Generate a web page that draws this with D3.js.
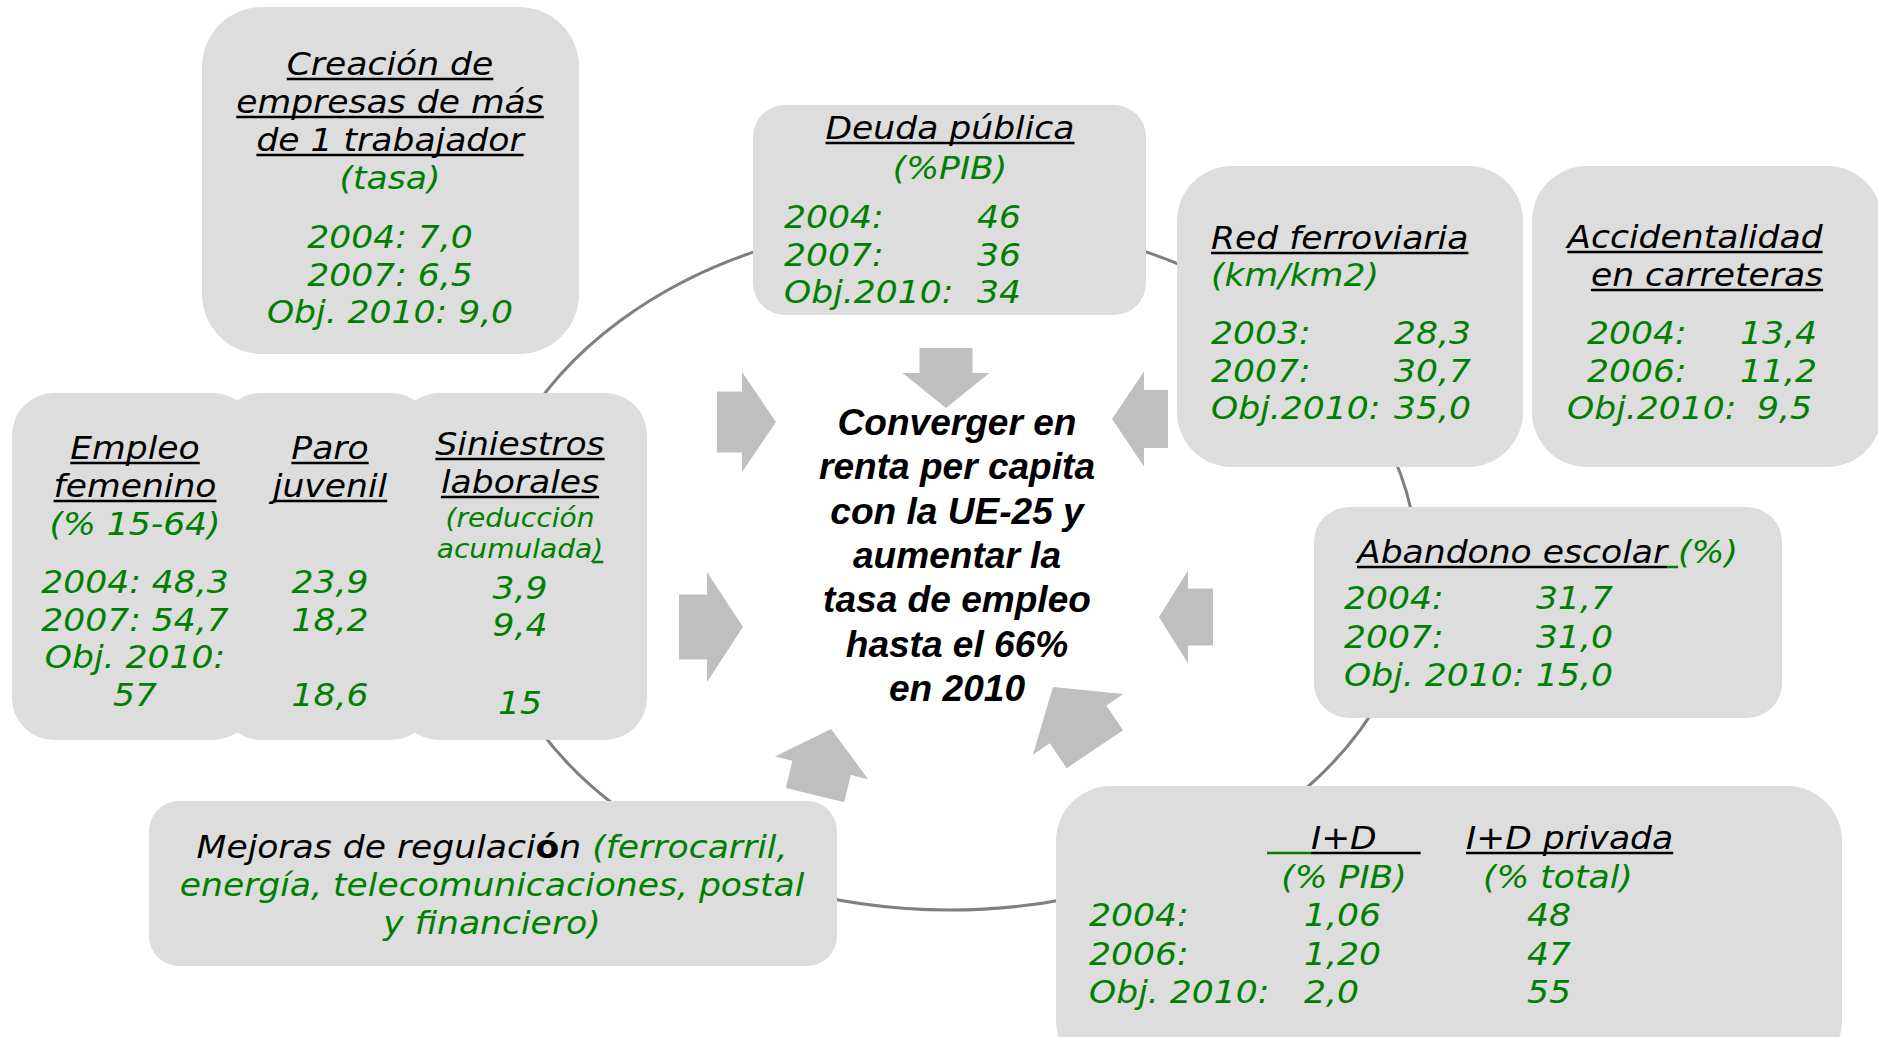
<!DOCTYPE html>
<html>
<head>
<meta charset="utf-8">
<script src="https://cdn.jsdelivr.net/npm/d3@7"></script>
<style>
  html, body { margin: 0; padding: 0; background: #fff; }
  svg text { white-space: pre; }
</style>
</head>
<body>
<svg id="chart" width="1878" height="1037"></svg>
<script>
// --- indicator data ---
const creacionHead = ["Creación de", "empresas de más", "de 1 trabajador"];
const creacionUnit = "(tasa)";
const creacionYears = ["2004", "2007", "Obj. 2010"];
const creacionValues = ["7,0", "6,5", "9,0"];

const deudaHead = "Deuda pública";
const deudaUnit = "(%PIB)";
const deudaYears = ["2004", "2007", "Obj.2010"];
const deudaValues = ["46", "36", "34"];

const redHead = "Red ferroviaria";
const redUnit = "(km/km2)";
const redYears = ["2003", "2007", "Obj.2010"];
const redValues = ["28,3", "30,7", "35,0"];

const accHead = ["Accidentalidad", "en carreteras"];
const accYears = ["2004", "2006", "Obj.2010"];
const accValues = ["13,4", "11,2", "9,5"];

const empleoHead = ["Empleo", "femenino"];
const empleoUnit = "(% 15-64)";
const empleoYears = ["2004", "2007"];
const empleoValues = ["48,3", "54,7"];
const empleoGoal = ["Obj. 2010:", "57"];

const paroHead = ["Paro", "juvenil"];
const paroValues = ["23,9", "18,2", "18,6"];

const siniHead = ["Siniestros", "laborales"];
const siniUnit = ["(reducción", "acumulada"];
const siniValues = ["3,9", "9,4", "15"];

const abandonoHead = "Abandono escolar";
const abandonoUnit = "(%)";
const abandonoYears = ["2004", "2007", "Obj. 2010"];
const abandonoValues = ["31,7", "31,0", "15,0"];

const idHeads = ["I+D", "I+D privada"];
const idUnits = ["(% PIB)", "(% total)"];
const idYears = ["2004", "2006", "Obj. 2010"];
const idValues = ["1,06", "1,20", "2,0"];
const idPrivValues = ["48", "47", "55"];

const regulacionLines = ["energía, telecomunicaciones, postal", "y financiero)"];
const goalLines = ["Converger en", "renta per capita", "con la UE-25 y", "aumentar la",
                   "tasa de empleo", "hasta el 66%", "en 2010"];

// --- layout ---
const green = "#008000";
const boxFill = "#dddddd";
const arrowFill = "#bfbfbf";

const boxes = [
  { x: 202,  y: 7,   w: 377, h: 347, r: 60 },   // creación
  { x: 753,  y: 105, w: 393, h: 210, r: 32 },   // deuda
  { x: 1177, y: 166, w: 346, h: 301, r: 55 },   // red ferroviaria
  { x: 1532, y: 166, w: 350, h: 301, r: 55 },   // accidentalidad
  { x: 1314, y: 507, w: 468, h: 211, r: 35 },   // abandono
  { x: 12,   y: 393, w: 243, h: 347, r: 42 },   // empleo
  { x: 219,  y: 393, w: 214, h: 347, r: 42 },   // paro
  { x: 397,  y: 393, w: 250, h: 347, r: 42 },   // siniestros
  { x: 149,  y: 801, w: 688, h: 165, r: 30 },   // regulación
  { x: 1056, y: 786, w: 786, h: 290, r: 55 }    // I+D
];

// arrows pointing at the goal: tip position, heading (deg), sizes
const arrows = [
  { tip: [946, 408],  angle: 90,     len: 60, head: 35, shaft: 53, headW: 87 },
  { tip: [776, 422],  angle: 0,      len: 59, head: 34, shaft: 61, headW: 100 },
  { tip: [1112, 419], angle: 180,    len: 56, head: 32, shaft: 58, headW: 95 },
  { tip: [743, 627],  angle: 0,      len: 64, head: 36, shaft: 65, headW: 110 },
  { tip: [1159, 617], angle: 180,    len: 54, head: 29, shaft: 57, headW: 93 },
  { tip: [831, 729],  angle: -76.4,  len: 68, head: 40, shaft: 60, headW: 96 },
  { tip: [1053, 687], angle: -123.9, len: 75, head: 45, shaft: 68, headW: 109 }
];

const svg = d3.select("#chart");

// ring behind everything
svg.append("ellipse")
  .attr("cx", 950).attr("cy", 565)
  .attr("rx", 467).attr("ry", 345)
  .attr("fill", "none")
  .attr("stroke", "#7f7f7f")
  .attr("stroke-width", 3);

svg.selectAll("rect.box")
  .data(boxes)
  .join("rect")
  .attr("class", "box")
  .attr("x", d => d.x).attr("y", d => d.y)
  .attr("width", d => d.w).attr("height", d => d.h)
  .attr("rx", d => d.r).attr("ry", d => d.r)
  .attr("fill", boxFill);

function arrowPath(d) {
  const h = d.head, l = d.len, s = d.shaft / 2, w = d.headW / 2;
  return d3.line()([[0, 0], [-h, -w], [-h, -s], [-l, -s], [-l, s], [-h, s], [-h, w]]) + "Z";
}

svg.selectAll("path.arrow")
  .data(arrows)
  .join("path")
  .attr("class", "arrow")
  .attr("d", arrowPath)
  .attr("transform", d => `translate(${d.tip[0]},${d.tip[1]}) rotate(${d.angle})`)
  .attr("fill", arrowFill);

// text helper: parts = string or [{t, c, u, b}]
function txt(x, y, parts, o = {}) {
  const size = o.size || 32, sx = o.sx || 1.08;
  const g = svg.append("g").attr("transform", `translate(${x},${y}) scale(${sx},1)`);
  const t = g.append("text")
    .attr("text-anchor", o.anchor || "start")
    .attr("font-family", o.family || "'DejaVu Sans', Verdana, sans-serif")
    .attr("font-size", size)
    .attr("font-style", "italic")
    .attr("font-weight", o.weight || "normal");
  if (typeof parts === "string") parts = [{ t: parts }];
  const spans = [];
  let idx = 0;
  parts.forEach(p => {
    const col = p.c || o.color || "#000";
    const ts = t.append("tspan").text(p.t).attr("fill", col);
    if (p.b) ts.attr("font-weight", "bold").attr("font-style", "normal");
    spans.push({ node: ts.node(), start: idx, col, u: p.u !== undefined ? p.u : o.u });
    idx += p.t.length;
  });
  spans.filter(s => s.u).forEach(s => {
    const x0 = t.node().getStartPositionOfChar(s.start).x;
    const len = s.node.getComputedTextLength();
    g.append("line")
      .attr("x1", x0).attr("x2", x0 + len)
      .attr("y1", 4).attr("y2", 4)
      .attr("stroke", s.col).attr("stroke-width", 2.5);
  });
  return g;
}

// Creación de empresas
creacionHead.forEach((s, i) => txt(390, 75 + i * 38, s, { anchor: "middle", u: true }));
txt(390, 189, creacionUnit, { anchor: "middle", color: green });
creacionYears.forEach((s, i) =>
  txt(390, 248 + i * 37.5, `${s}: ${creacionValues[i]}`, { anchor: "middle", color: green }));

// Deuda pública
txt(950, 139, deudaHead, { anchor: "middle", u: true });
txt(950, 179, deudaUnit, { anchor: "middle", color: green });
deudaYears.forEach((s, i) => {
  txt(784, 228 + i * 37.5, s + ":", { color: green });
  txt(977, 228 + i * 37.5, deudaValues[i], { color: green });
});

// Red ferroviaria
txt(1211, 249, redHead, { u: true });
txt(1211, 286, redUnit, { color: green });
redYears.forEach((s, i) => {
  txt(1211, 344 + i * 37.5, s + ":", { color: green });
  txt(1394, 344 + i * 37.5, redValues[i], { color: green });
});

// Accidentalidad
txt(1695, 248, accHead[0], { anchor: "middle", u: true });
txt(1707, 286, accHead[1], { anchor: "middle", u: true });
const accLabelX = [1587, 1587, 1567], accValueX = [1740, 1740, 1757];
accYears.forEach((s, i) => {
  txt(accLabelX[i], 344 + i * 37.5, s + ":", { color: green });
  txt(accValueX[i], 344 + i * 37.5, accValues[i], { color: green });
});

// Empleo femenino / Paro juvenil / Siniestros laborales
empleoHead.forEach((s, i) => txt(135, 459 + i * 38, s, { anchor: "middle", u: true }));
txt(135, 535, empleoUnit, { anchor: "middle", color: green });
empleoYears.forEach((s, i) =>
  txt(135, 593 + i * 38, `${s}: ${empleoValues[i]}`, { anchor: "middle", color: green }));
empleoGoal.forEach((s, i) => txt(135, 668 + i * 38, s, { anchor: "middle", color: green }));

paroHead.forEach((s, i) => txt(330, 459 + i * 38, s, { anchor: "middle", u: true }));
const paroY = [593, 631, 706];
paroValues.forEach((s, i) => txt(330, paroY[i], s, { anchor: "middle", color: green }));

siniHead.forEach((s, i) => txt(520, 455 + i * 38, s, { anchor: "middle", u: true }));
txt(520, 527, siniUnit[0], { anchor: "middle", color: green, size: 26 });
txt(520, 558, [{ t: siniUnit[1] }, { t: ")", u: true }], { anchor: "middle", color: green, size: 26 });
const siniY = [599, 636, 714];
siniValues.forEach((s, i) => txt(520, siniY[i], s, { anchor: "middle", color: green }));

// Abandono escolar
txt(1357, 563, [{ t: abandonoHead, u: true }, { t: " ", u: true, c: green }, { t: abandonoUnit, c: green }]);
abandonoYears.forEach((s, i) => {
  txt(1344, 609 + i * 38.5, s + ":", { color: green });
  txt(1536, 609 + i * 38.5, abandonoValues[i], { color: green });
});

// Mejoras de regulación
txt(492, 858, [
  { t: "Mejoras de regulaci" }, { t: "ó", b: true }, { t: "n" },
  { t: " (ferrocarril,", c: green }
], { anchor: "middle" });
regulacionLines.forEach((s, i) => txt(492, 896 + i * 38, s, { anchor: "middle", color: green }));

// I+D
txt(1267, 849, [{ t: "    ", u: true, c: green }, { t: idHeads[0] + "    ", u: true }]);
txt(1466, 849, idHeads[1], { u: true });
txt(1344, 888, idUnits[0], { anchor: "middle", color: green });
txt(1483, 888, idUnits[1], { color: green });
idYears.forEach((s, i) => {
  txt(1089, 926 + i * 38.5, s + ":", { color: green });
  txt(1304, 926 + i * 38.5, idValues[i], { color: green });
  txt(1527, 926 + i * 38.5, idPrivValues[i], { color: green });
});

// goal in the middle
goalLines.forEach((s, i) =>
  txt(957, 435 + i * 44.3, s, {
    anchor: "middle", size: 36, sx: 1.03, weight: "bold",
    family: "'Liberation Sans', Arial, sans-serif"
  }));
</script>
</body>
</html>
